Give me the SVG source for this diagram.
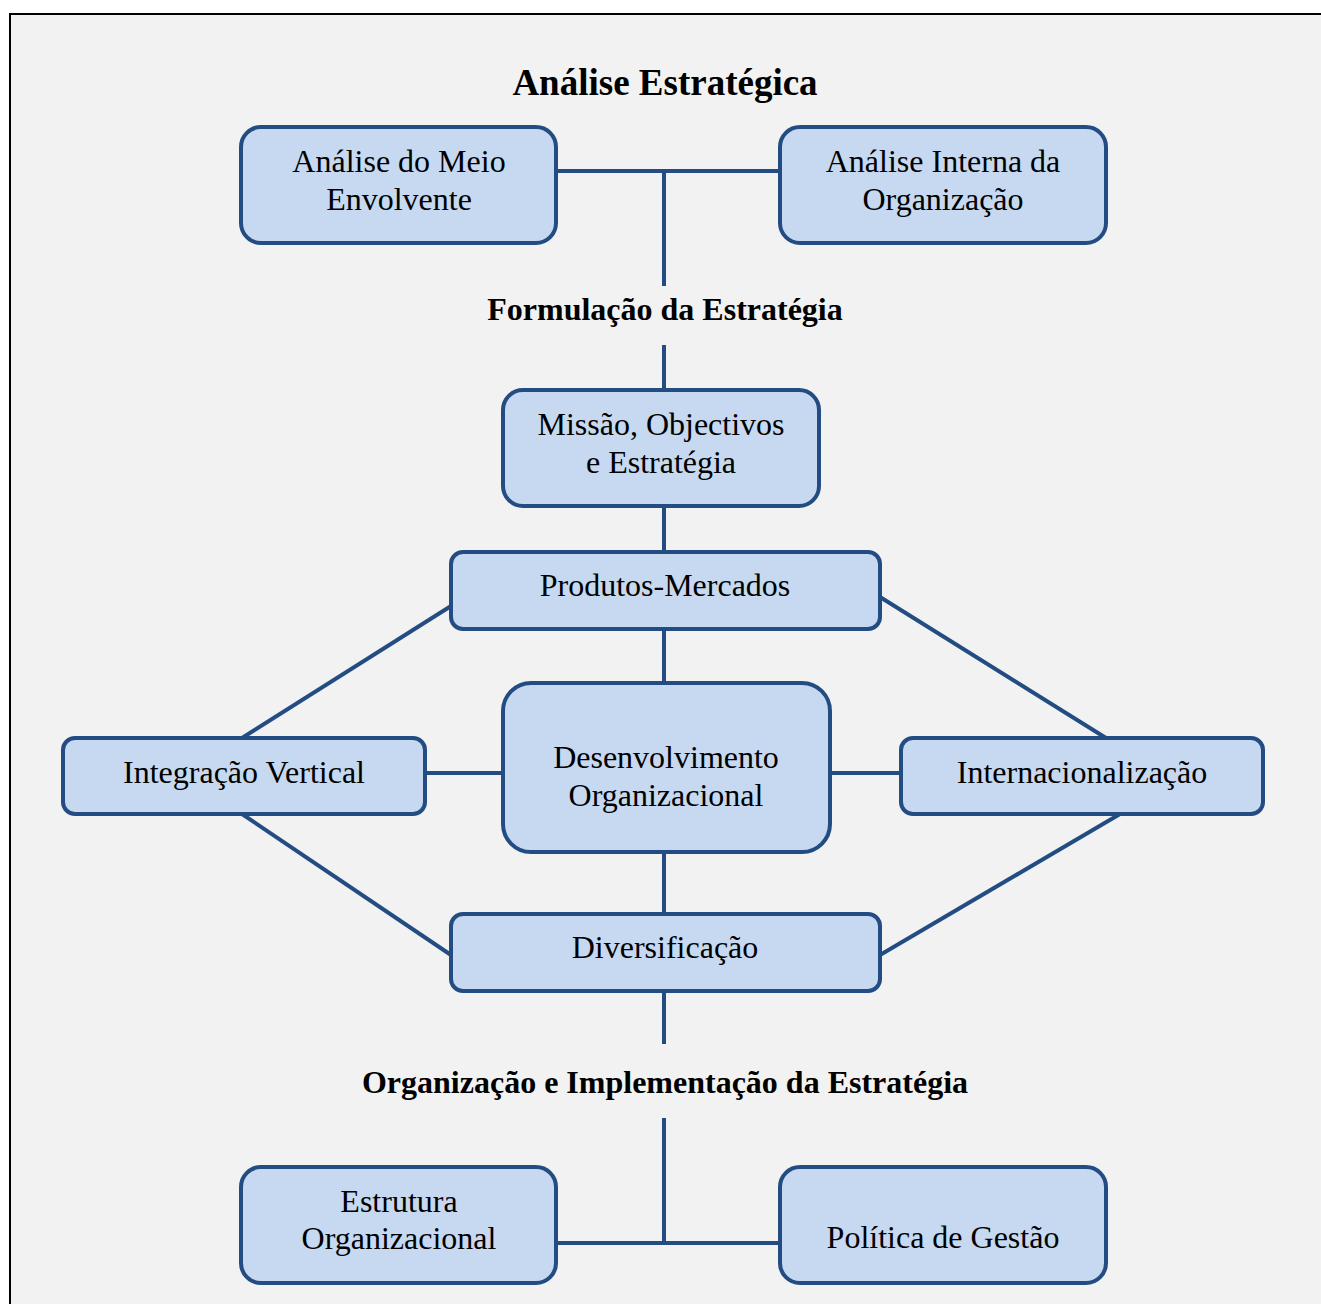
<svg xmlns="http://www.w3.org/2000/svg" width="1321" height="1304" viewBox="0 0 1321 1304">
  <style>
    .box { fill: #c6d9f1; stroke: #234d82; stroke-width: 4; }
    .lbl { font-family: "Liberation Serif", "Times New Roman", serif; font-size: 32px; fill: #000; text-anchor: middle; }
    .head { font-family: "Liberation Serif", "Times New Roman", serif; font-weight: bold; fill: #000; text-anchor: middle; }
    #connectors line, #connectors path { stroke: #234d82; stroke-width: 4; fill: none; }
  </style>

  <!-- page background and frame -->
  <rect x="0" y="0" width="1321" height="1304" fill="#ffffff"/>
  <rect x="10" y="14" width="1330" height="1310" fill="#f2f2f2" stroke="#000" stroke-width="2"/>

  <!-- section headings -->
  <text class="head" x="665" y="95" font-size="37">Análise Estratégica</text>
  <text class="head" x="665" y="320" font-size="32">Formulação da Estratégia</text>
  <text class="head" x="665" y="1093" font-size="32">Organização e Implementação da Estratégia</text>

  <!-- connectors -->
  <g id="connectors">
    <path d="M556 171 H780 M664 171 V286"/>
    <line x1="664" y1="345" x2="664" y2="390"/>
    <line x1="664" y1="506" x2="664" y2="552"/>
    <line x1="664" y1="629" x2="664" y2="683"/>
    <line x1="664" y1="852" x2="664" y2="914"/>
    <line x1="664" y1="991" x2="664" y2="1044"/>
    <path d="M664 1118 V1243 M556 1243 H780"/>
    <line x1="425" y1="773" x2="503" y2="773"/>
    <line x1="830" y1="773" x2="901" y2="773"/>
    <line x1="451" y1="606" x2="242" y2="738"/>
    <line x1="880" y1="597" x2="1106" y2="738"/>
    <line x1="242" y1="814" x2="451" y2="955"/>
    <line x1="1120" y1="814" x2="880" y2="955"/>
  </g>

  <g id="analise-meio">
    <rect class="box" x="241" y="127" width="315" height="116" rx="20"/>
    <text class="lbl" x="399" y="172">Análise do Meio</text>
    <text class="lbl" x="399" y="210">Envolvente</text>
  </g>

  <g id="analise-interna">
    <rect class="box" x="780" y="127" width="326" height="116" rx="20"/>
    <text class="lbl" x="943" y="172">Análise Interna da</text>
    <text class="lbl" x="943" y="210">Organização</text>
  </g>

  <g id="missao">
    <rect class="box" x="503" y="390" width="316" height="116" rx="20"/>
    <text class="lbl" x="661" y="435">Missão, Objectivos</text>
    <text class="lbl" x="661" y="473">e Estratégia</text>
  </g>

  <g id="produtos-mercados">
    <rect class="box" x="451" y="552" width="429" height="77" rx="12"/>
    <text class="lbl" x="665" y="596">Produtos-Mercados</text>
  </g>

  <g id="desenvolvimento">
    <rect class="box" x="503" y="683" width="327" height="169" rx="28"/>
    <text class="lbl" x="666" y="768">Desenvolvimento</text>
    <text class="lbl" x="666" y="806">Organizacional</text>
  </g>

  <g id="integracao-vertical">
    <rect class="box" x="63" y="738" width="362" height="76" rx="12"/>
    <text class="lbl" x="244" y="783">Integração Vertical</text>
  </g>

  <g id="internacionalizacao">
    <rect class="box" x="901" y="738" width="362" height="76" rx="12"/>
    <text class="lbl" x="1082" y="783">Internacionalização</text>
  </g>

  <g id="diversificacao">
    <rect class="box" x="451" y="914" width="429" height="77" rx="12"/>
    <text class="lbl" x="665" y="958">Diversificação</text>
  </g>

  <g id="estrutura">
    <rect class="box" x="241" y="1167" width="315" height="116" rx="20"/>
    <text class="lbl" x="399" y="1212">Estrutura</text>
    <text class="lbl" x="399" y="1249">Organizacional</text>
  </g>

  <g id="politica">
    <rect class="box" x="780" y="1167" width="326" height="116" rx="20"/>
    <text class="lbl" x="943" y="1248">Política de Gestão</text>
  </g>
</svg>
